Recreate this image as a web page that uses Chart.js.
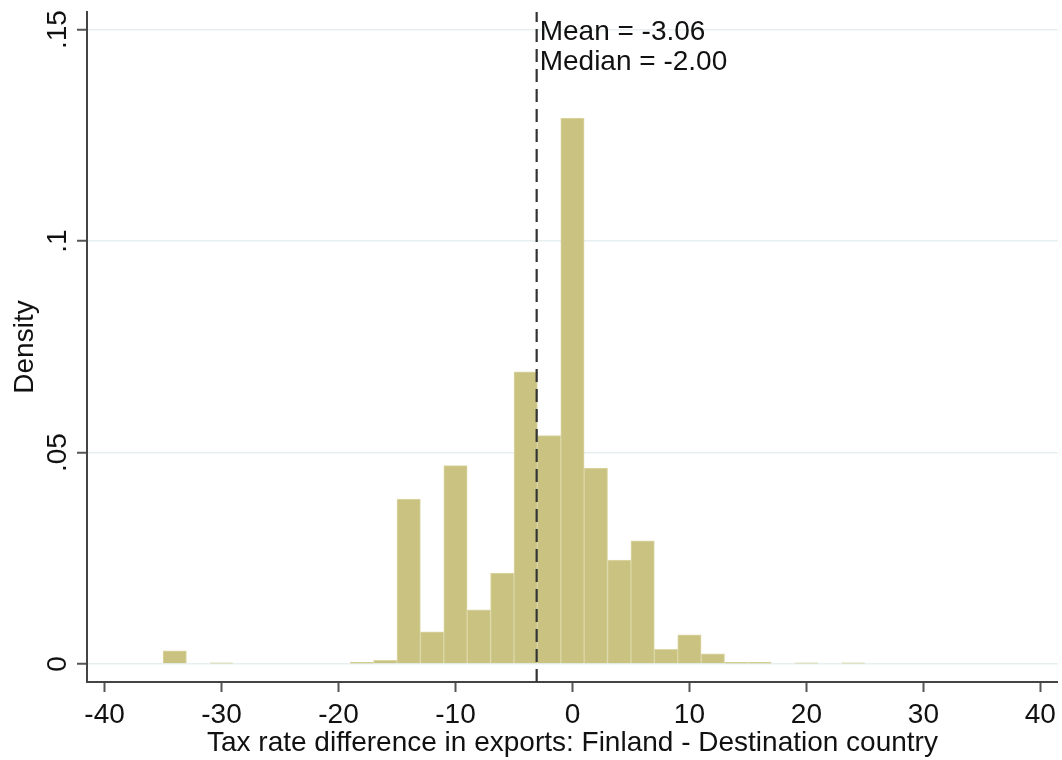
<!DOCTYPE html>
<html>
<head>
<meta charset="utf-8">
<script src="https://cdn.jsdelivr.net/npm/chart.js@4.4.1/dist/chart.umd.min.js"></script>
<style>
html,body{margin:0;padding:0;background:#fff;}
#wrap{width:1062px;height:760px;position:relative;}
</style>
</head>
<body>
<div id="wrap"><canvas id="c" width="1062" height="760"></canvas></div>
<script>
// Histogram bins (centers, width 2) and densities
const binCenters = [-34,-32,-30,-28,-26,-24,-22,-20,-18,-16,-14,-12,-10,-8,-6,-4,-2,0,2,4,6,8,10,12,14,16,18,20,22,24];
const densities  = [0.0031,0,0.0003,0,0,0,0,0,0.0004,0.0009,0.0390,0.0076,0.0469,0.0128,0.0215,0.0691,0.0540,0.1291,0.0463,0.0246,0.0291,0.0035,0.0069,0.0024,0.0004,0.0004,0,0.0003,0,0.0003];

const xTickValues = [-40,-30,-20,-10,0,10,20,30,40];
const xTickLabels = ['-40','-30','-20','-10','0','10','20','30','40'];
const yTickValues = [0,0.05,0.1,0.15];
const yTickLabels = ['0','.05','.1','.15'];

const meanValue = -3.06;
const medianValue = -2.00;
const statLabels = ['Mean = -3.06','Median = -2.00'];

const xTitle = 'Tax rate difference in exports: Finland - Destination country';
const yTitle = 'Density';

const xRange = [-41.5, 41.5];
const yRange = [-0.00425, 0.15416];

const FONT = '"Liberation Sans", Arial, sans-serif';
const TXT = '#111111';

const textPlugin = {
  id: 'textPlugin',
  afterDraw(chart) {
    const ctx = chart.ctx;
    const xs = chart.scales.x, ys = chart.scales.y;
    ctx.save();
    // y tick labels rotated (Stata style)
    ctx.fillStyle = TXT;
    ctx.font = '28px ' + FONT;
    ctx.textAlign = 'center';
    ctx.textBaseline = 'middle';
    yTickValues.forEach((v, i) => {
      const py = ys.getPixelForValue(v);
      ctx.save();
      ctx.translate(ys.right - 29, py);
      ctx.rotate(-Math.PI / 2);
      ctx.fillText(yTickLabels[i], 0, 0);
      ctx.restore();
    });
    // mean / median text
    ctx.textAlign = 'left';
    ctx.textBaseline = 'alphabetic';
    const px = xs.getPixelForValue(meanValue) + 3;
    ctx.fillText(statLabels[0], px, chart.chartArea.top + 28);
    ctx.fillText(statLabels[1], px, chart.chartArea.top + 58);
    ctx.restore();
  }
};

new Chart(document.getElementById('c'), {
  type: 'bar',
  data: {
    datasets: [
      {
        type: 'line',
        order: 0,
        data: [{x: meanValue, y: yRange[0]}, {x: meanValue, y: yRange[1]}],
        borderColor: '#333333',
        borderWidth: 2.2,
        borderDash: [13, 7],
        pointRadius: 0,
        fill: false
      },
      {
        type: 'bar',
        order: 1,
        data: binCenters.map((x, i) => ({x: x, y: densities[i]})),
        backgroundColor: '#c9c281',
        borderColor: '#dcd7a6',
        borderWidth: 1,
        barPercentage: 1,
        categoryPercentage: 1,
        grouped: false
      }
    ]
  },
  options: {
    responsive: false,
    devicePixelRatio: 1,
    animation: false,
    layout: { padding: { top: 12, right: 3, left: 0, bottom: 0 } },
    plugins: { legend: { display: false }, tooltip: { enabled: false } },
    scales: {
      x: {
        type: 'linear',
        min: xRange[0],
        max: xRange[1],
        offset: false,
        afterBuildTicks: s => { s.ticks = xTickValues.map(v => ({value: v})); },
        afterFit: s => { s.height = 78; },
        ticks: {
          autoSkip: false,
          maxRotation: 0,
          minRotation: 0,
          padding: 6,
          color: TXT,
          font: { family: FONT, size: 28 },
          callback: (v) => xTickLabels[xTickValues.indexOf(v)]
        },
        grid: { offset: false, drawOnChartArea: false, drawTicks: true, tickLength: 10, tickColor: '#555555', tickWidth: 2 },
        border: { display: true, color: '#444444', width: 2 },
        title: { display: true, text: xTitle, color: TXT, font: { family: FONT, size: 28 }, padding: { top: 0, bottom: 0 } }
      },
      y: {
        type: 'linear',
        min: yRange[0],
        max: yRange[1],
        afterBuildTicks: s => { s.ticks = yTickValues.map(v => ({value: v})); },
        afterFit: s => { s.width = 87; },
        ticks: { color: 'rgba(0,0,0,0)', font: { family: FONT, size: 2 }, padding: 4 },
        grid: { color: '#e6f0f1', lineWidth: 1.5, drawTicks: true, tickLength: 10, tickColor: '#555555', tickWidth: 2 },
        border: { display: true, color: '#444444', width: 2 },
        title: { display: true, text: yTitle, color: TXT, font: { family: FONT, size: 28 }, padding: { top: 8, bottom: 0 } }
      }
    }
  },
  plugins: [textPlugin]
});
</script>
</body>
</html>
